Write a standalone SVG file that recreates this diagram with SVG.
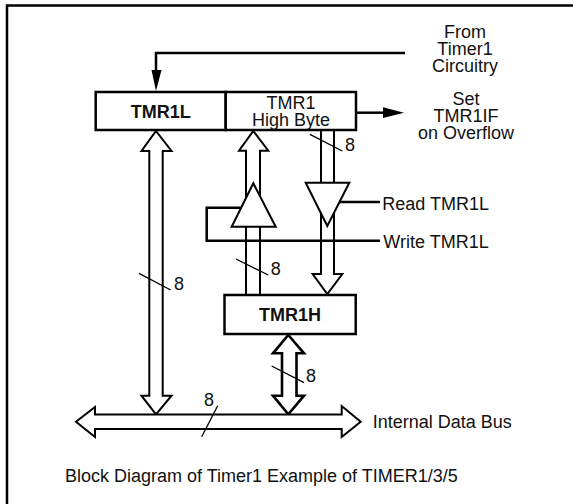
<svg xmlns="http://www.w3.org/2000/svg" width="573" height="504" viewBox="0 0 573 504">
<style>
text{font-family:"Liberation Sans",Arial,sans-serif;font-size:18px;fill:#111}
.b{font-weight:bold}
.m{text-anchor:middle}
.box{fill:#fff;stroke:#000;stroke-width:2.5}
.bus{fill:#fff;stroke:#000;stroke-width:2}
.ln{fill:none;stroke:#000;stroke-width:2.5}
.sl{fill:none;stroke:#000;stroke-width:1.3}
.ah{fill:#000;stroke:none}
</style>
<rect width="573" height="504" fill="#fff"/>
<path class="ln" d="M7,504 V5.5 H573"/>
<g id="connectors">
  <path class="ln" d="M405,53 H156 V72"/>
  <polygon class="ah" points="151.5,70 161.5,70 156,91"/>
  <path class="ln" d="M356,112.7 H385"/>
  <polygon class="ah" points="383,107.3 404,112.7 383,118"/>
  <polygon class="bus" points="156,131 171.5,151 162.7,151 162.7,395.7 171.5,395.7 156,414.3 141.5,395.7 149.3,395.7 149.3,151 141.5,151"/>
  <polygon class="bus" style="stroke-width:2.6" points="288.3,335 304,353.3 296.5,353.3 296.5,395.7 304,395.7 288.3,414.3 273,395.7 282,395.7 282,353.3 273,353.3"/>
  <path class="bus" d="M246,295 V150.7 H239 L253.3,131 L268.3,150.7 H260 V295"/>
  <path class="bus" d="M321,130 V274 H312.7 L327.3,294 L342.3,274 H334 V130"/>
  <path class="bus" d="M95,414.5 H341.7 V406 L360.7,421.7 L341.7,437 V429 H95 V437 L76,421.7 L95,407 Z"/>
  <path class="ln" d="M339.5,202 H380"/>
  <path class="ln" d="M380,240.7 H206.7 V207.7 H241.2"/>
  <line class="sl" x1="139" y1="273.3" x2="170.7" y2="290"/>
  <line class="sl" x1="217.7" y1="405.7" x2="201.7" y2="436.7"/>
  <line class="sl" x1="271.7" y1="366" x2="304" y2="382.7"/>
  <line class="sl" x1="236" y1="259" x2="268.3" y2="275"/>
  <line class="sl" x1="310" y1="134.3" x2="342.3" y2="151"/>
</g>
<g id="buffer_write">
  <polygon class="bus" points="253.3,183.3 275.7,226.7 231.7,226.7"/>
</g>
<g id="buffer_read">
  <polygon class="bus" points="305.7,182.7 349.3,182.7 327.3,226"/>
</g>
<g id="tmr1l">
  <rect class="box" x="95.7" y="92" width="130" height="38"/>
  <text class="b m" x="160.7" y="117.5">TMR1L</text>
</g>
<g id="tmr1_high_byte">
  <rect class="box" x="225.7" y="92" width="130.3" height="38"/>
  <text class="m" x="291" y="108.5">TMR1<tspan x="291" dy="17.5">High Byte</tspan></text>
</g>
<g id="tmr1h">
  <rect class="box" x="224.5" y="295" width="131.2" height="39"/>
  <text class="b m" x="290" y="320.5">TMR1H</text>
</g>
<g id="labels">
  <text class="m" x="465" y="37.5">From<tspan x="465" dy="17">Timer1</tspan><tspan x="465" dy="17.5">Circuitry</tspan></text>
  <text class="m" x="466" y="105">Set<tspan x="466" dy="17">TMR1IF</tspan><tspan x="466" dy="17">on Overflow</tspan></text>
  <text x="382.3" y="210">Read TMR1L</text>
  <text x="383.3" y="248">Write TMR1L</text>
  <text x="372.7" y="427.5">Internal Data Bus</text>
  <text x="65" y="481.5">Block Diagram of Timer1 Example of TIMER1/3/5</text>
  <text x="174" y="289.5">8</text>
  <text x="204" y="406">8</text>
  <text x="306" y="382">8</text>
  <text x="270.7" y="274.5">8</text>
  <text x="345" y="150.5">8</text>
</g>
</svg>
